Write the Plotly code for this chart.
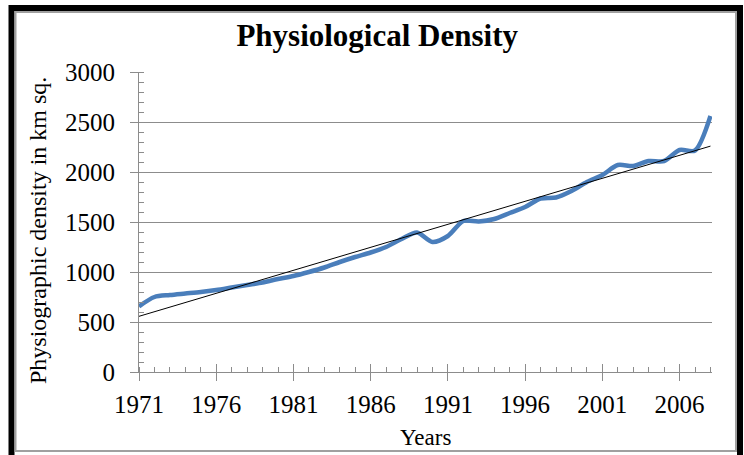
import numpy as np
import plotly.graph_objects as go

# Physiological density by year (persons per km sq. of arable land)
years = list(range(1971, 2009))
density = [656, 750, 770, 785, 800, 820, 845, 870, 895, 930,
           960, 1000, 1045, 1100, 1150, 1195, 1250, 1330, 1395, 1300,
           1360, 1510, 1505, 1530, 1590, 1650, 1735, 1745, 1810, 1900,
           1970, 2070, 2060, 2110, 2110, 2220, 2215, 2560]

x_ticks = list(range(1971, 2009, 5))
y_ticks = list(range(0, 3001, 500))

# Linear least-squares trend line
slope, intercept = np.polyfit(years, density, 1)
trend_x = [years[0], years[-1]]
trend_y = [slope * v + intercept for v in trend_x]

W, H = 744, 455
L, R, T, B = 139, 32, 72, 83
PW, PH = W - L - R, H - T - B

def px(xp):
    return (xp - L) / PW

def py(yp):
    return (H - B - yp) / PH

FONT = "Liberation Serif"
GRID = "#8c8c8c"

fig = go.Figure()
fig.add_trace(go.Scatter(
    x=years, y=density, mode="lines",
    line=dict(color="#4a7ebb", width=4.5, shape="spline", smoothing=0.8),
    showlegend=False, hoverinfo="x+y"))
fig.add_trace(go.Scatter(
    x=trend_x, y=trend_y, mode="lines",
    line=dict(color="#000000", width=1),
    showlegend=False, hoverinfo="skip"))

fig.update_layout(
    width=W, height=H,
    margin=dict(l=L, r=R, t=T, b=B),
    paper_bgcolor="white", plot_bgcolor="white",
    font=dict(family=FONT, color="black"),
    title=dict(text="<b>Physiological Density</b>", x=0.507, xref="container",
               xanchor="center", y=1 - 35 / H, yref="container", yanchor="middle",
               font=dict(family=FONT, size=31, color="black")),
    xaxis=dict(
        range=[1971, 2008.1], tickmode="array", tickvals=x_ticks,
        ticktext=[str(v) for v in x_ticks],
        showgrid=False, zeroline=False,
        showline=True, linecolor=GRID, linewidth=1,
        ticks="outside", ticklen=8, tickcolor=GRID, tickwidth=1,
        minor=dict(ticks="inside", ticklen=5, dtick=1, tick0=1971,
                   tickcolor=GRID, showgrid=False),
        tickfont=dict(family=FONT, size=25, color="black"),
        ticklabelstandoff=2,
    ),
    xaxis2=dict(
        overlaying="x", matches="x", side="bottom", range=[1971, 2008.1],
        tickmode="array", tickvals=x_ticks, showticklabels=False,
        ticks="inside", ticklen=8, tickcolor=GRID, showgrid=False,
        zeroline=False, showline=False,
    ),
    yaxis=dict(
        range=[0, 3000], tickmode="array", tickvals=y_ticks,
        ticktext=[str(v) for v in y_ticks],
        showgrid=True, gridcolor=GRID, gridwidth=1, zeroline=False,
        showline=True, linecolor=GRID, linewidth=1,
        ticks="outside", ticklen=8, tickcolor=GRID,
        minor=dict(ticks="inside", ticklen=5, dtick=100,
                   tickcolor=GRID, showgrid=False),
        tickfont=dict(family=FONT, size=25, color="black"),
        ticklabelstandoff=10,
    ),
    annotations=[
        dict(text="Physiographic density in km sq.", textangle=-90,
             xref="paper", yref="paper", x=px(38), y=py(231),
             xanchor="center", yanchor="middle", showarrow=False,
             font=dict(family=FONT, size=24, color="black")),
        dict(text="Years", xref="paper", yref="paper", x=px(425), y=py(437),
             xanchor="center", yanchor="middle", showarrow=False,
             font=dict(family=FONT, size=23, color="black")),
    ],
    shapes=[
        dict(type="rect", xref="paper", yref="paper",
             x0=px(11.5), x1=px(740), y0=py(8), y1=py(458),
             line=dict(color="black", width=6), fillcolor="rgba(0,0,0,0)", layer="above"),
        dict(type="rect", xref="paper", yref="paper",
             x0=px(15.5), x1=px(736), y0=py(12), y1=py(451),
             line=dict(color="#a0a0a0", width=2), fillcolor="rgba(0,0,0,0)", layer="above"),
    ],
)

# Invisible trace to activate the overlay axis carrying the crossing tick halves
fig.add_trace(go.Scatter(x=[1971], y=[0], xaxis="x2", mode="markers",
                         marker=dict(opacity=0), showlegend=False, hoverinfo="skip"))

fig.write_html("out.html")
